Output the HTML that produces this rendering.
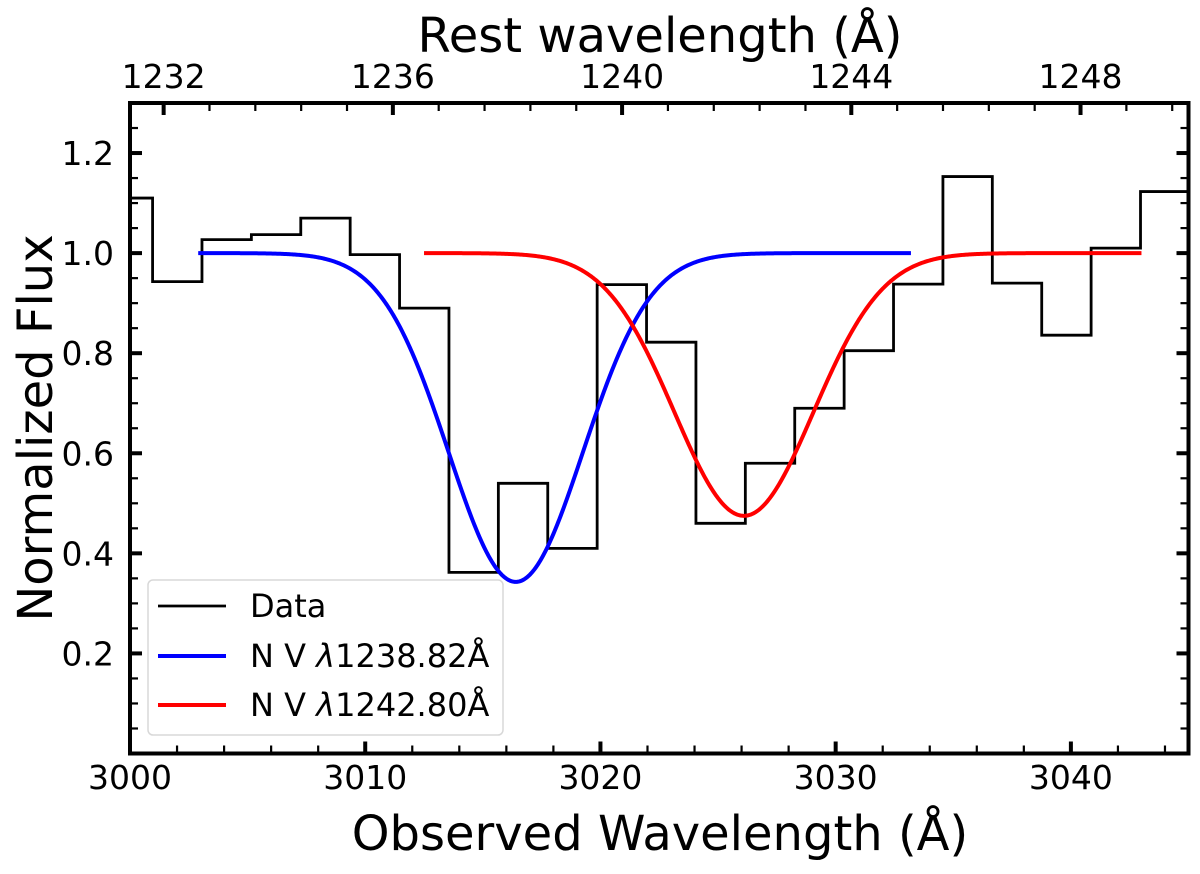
<!DOCTYPE html>
<html><head><meta charset="utf-8"><style>
body{margin:0;background:#fff;}
svg text{font-family:"DejaVu Sans","Liberation Sans",sans-serif;fill:#000;}
</style></head><body>
<svg id="chart" width="1200" height="869" viewBox="0 0 1200 869" xmlns="http://www.w3.org/2000/svg">
<g id="plot"></g>
</svg>
<script>
const binCenters=[2999.91,3002.01,3004.11,3006.21,3008.31,3010.41,3012.51,3014.61,3016.71,3018.81,3020.91,3023.01,3025.11,3027.21,3029.31,3031.41,3033.51,3035.61,3037.71,3039.81,3041.91,3044.01];
const fluxValues=[1.11,0.943,1.027,1.037,1.07,0.997,0.89,0.362,0.54,0.41,0.937,0.822,0.46,0.58,0.69,0.805,0.938,1.153,0.94,0.836,1.01,1.123];
const blueFit=[3016.4,0.657,2.85,3002.9,3033.2]; // center, depth, sigma, start, end
const redFit=[3026.1,0.525,2.95,3012.5,3043.0];
const xTicks=[3000,3010,3020,3030,3040];
const yTicks=[0.2,0.4,0.6,0.8,1.0,1.2];
const restTicks=[1232,1236,1240,1244,1248];
const onePlusZ=3020.92/1240;

const L=130,R=1188.5,T=103,B=753.5,X0=3000,X1=3045,Y0=0,Y1=1.3;
const sx=v=>L+(v-X0)/(X1-X0)*(R-L);
const sy=v=>B-(v-Y0)/(Y1-Y0)*(B-T);
const NS='http://www.w3.org/2000/svg';
const g=document.getElementById('plot');
function mk(tag,attrs,parent){const e=document.createElementNS(NS,tag);for(const k in attrs)e.setAttribute(k,attrs[k]);(parent||g).appendChild(e);return e;}

const defs=mk('defs',{});const cp=mk('clipPath',{id:'clip'},defs);mk('rect',{x:L,y:T,width:R-L,height:B-T},cp);

let d='';const hw=1.05;
binCenters.forEach((c,i)=>{const y=sy(fluxValues[i]);d+=(i?'L':'M')+sx(c-hw)+','+y+'L'+sx(c+hw)+','+y;});
const dataPath=mk('path',{d:d,fill:'none',stroke:'#000','stroke-width':2.8,'clip-path':'url(#clip)'});



function gauss(p,color,name){let s='';for(let x=p[3];x<=p[4]+1e-6;x+=0.05){const v=1-p[1]*Math.exp(-Math.pow(x-p[0],2)/(2*p[2]*p[2]));s+=(s?'L':'M')+sx(x).toFixed(2)+','+sy(v).toFixed(2);}
const e=mk('path',{d:s,fill:'none',stroke:color,'stroke-width':4,'clip-path':'url(#clip)'});

}
gauss(blueFit,'#0000ff','blue-fit-curve');
gauss(redFit,'#ff0000','red-fit-curve');

const fr=mk('rect',{x:L,y:T,width:R-L,height:B-T,fill:'none',stroke:'#000','stroke-width':4});



for(let v=3000;v<=3045;v+=2){const x=sx(v);const major=v%10===0;mk('line',{x1:x,x2:x,y1:B,y2:B-(major?12:8),stroke:'#000','stroke-width':major?4:2.2});}
xTicks.forEach(v=>{const t=mk('text',{x:sx(v),y:789,'font-size':33,'text-anchor':'middle'});t.textContent=v;

});
for(let k=1;k<=26;k++){const v=k*0.05;const y=sy(v);const major=k%4===0;
mk('line',{x1:L,x2:L+(major?12:8),y1:y,y2:y,stroke:'#000','stroke-width':major?4:2.2});
mk('line',{x1:R,x2:R-(major?12:8),y1:y,y2:y,stroke:'#000','stroke-width':major?4:2.2});}
yTicks.forEach(v=>{const t=mk('text',{x:114,y:sy(v)+12,'font-size':33,'text-anchor':'end'});t.textContent=v.toFixed(1);

});
for(let r=1231.2;r<=1250;r+=0.8){const x=sx(r*onePlusZ);if(x<L||x>R)continue;const major=Math.abs((r-1232)/4-Math.round((r-1232)/4))<0.01;
mk('line',{x1:x,x2:x,y1:T,y2:T+(major?12:8),stroke:'#000','stroke-width':major?4:2.2});}
restTicks.forEach(r=>{const t=mk('text',{x:sx(r*onePlusZ),y:88,'font-size':33,'text-anchor':'middle'});t.textContent=r;

});

let t=mk('text',{x:660,y:52,'font-size':48,'text-anchor':'middle'});t.textContent='Rest wavelength (Å)';


t=mk('text',{x:660,y:850,'font-size':48,'text-anchor':'middle'});t.textContent='Observed Wavelength (Å)';


t=mk('text',{x:0,y:0,'font-size':48,'text-anchor':'middle',transform:'translate(52,428) rotate(-90)'});t.textContent='Normalized Flux';



const lg=mk('g',{});


mk('rect',{x:148,y:580,width:355,height:155,rx:5,fill:'#fff','fill-opacity':0.85,stroke:'#d8d8d8','stroke-width':1.5},lg);
const ents=[['Data','#000',2.8,606,'legend-entry-data'],['N V λ1238.82Å','#0000ff',4,656,'legend-entry-blue'],['N V λ1242.80Å','#ff0000',4,705,'legend-entry-red']];
ents.forEach(e=>{const eg=mk('g',{},lg);


mk('line',{x1:158,x2:226,y1:e[3],y2:e[3],stroke:e[1],'stroke-width':e[2]},eg);
const tx=mk('text',{x:250,y:e[3]+11,'font-size':32},eg);
if(e[0]==='Data'){tx.textContent='Data';}else{tx.innerHTML='N V <tspan font-style="italic">λ</tspan>'+e[0].slice(5);}
});
</script>
</body></html>
